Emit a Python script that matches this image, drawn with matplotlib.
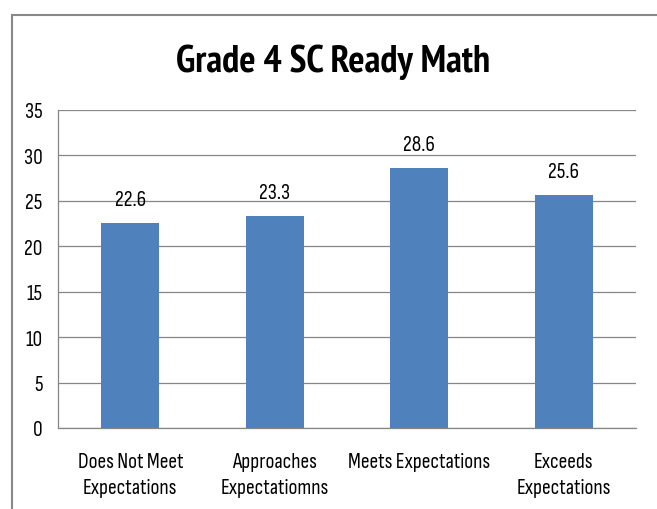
import matplotlib
matplotlib.use("Agg")
import matplotlib.pyplot as plt
from matplotlib.patches import Rectangle

categories = ["Does Not Meet\nExpectations", "Approaches\nExpectatiomns", "Meets Expectations", "Exceeds\nExpectations"]
values = [22.6, 23.3, 28.6, 25.6]
yticks = [0, 5, 10, 15, 20, 25, 30, 35]
title = "Grade 4 SC Ready Math"

plt.rcParams['font.family'] = ['Sofia Sans Condensed', 'Carlito', 'DejaVu Sans']

W, H = 657, 510
fig = plt.figure(figsize=(W/100, H/100), dpi=100)
fig.patches.append(Rectangle((12/W, -0.1), 1.2, 1 - 16/H + 0.1, transform=fig.transFigure,
                             fill=False, edgecolor="#888888", linewidth=1.5))

ax = fig.add_axes([58/W, 1 - 429/H, (636-58)/W, (429-111)/H])
x = list(range(len(categories)))
ax.bar(x, values, width=0.40, color="#4F81BD", zorder=3)
ax.set_xlim(-0.5, len(categories) - 0.5)
ax.set_ylim(0, 35)
ax.set_yticks(yticks)
ax.set_yticklabels([str(t) for t in yticks], fontsize=15.5)
ax.set_xticks(x)
ax.set_xticklabels(categories, fontsize=15.5, linespacing=1.5)
ax.tick_params(axis='y', length=0, pad=11)
ax.tick_params(axis='x', length=0, pad=17)
ax.grid(axis='y', color="#868686", linewidth=0.9, zorder=0)
for s in ['top', 'right']:
    ax.spines[s].set_visible(False)
for s in ['left', 'bottom']:
    ax.spines[s].set_color("#868686")
    ax.spines[s].set_linewidth(0.9)

for xi, v in zip(x, values):
    ax.annotate(f"{v}", (xi, v), xytext=(0, 17), textcoords="offset points",
                ha="center", va="center", fontsize=15.5)

fig.text(333/W, 1 - 72/H, title, ha="center", va="baseline",
         fontsize=27.5, fontweight="bold", family=['PT Sans Narrow', 'Carlito', 'DejaVu Sans'])

fig.savefig("out.png", dpi=100)
